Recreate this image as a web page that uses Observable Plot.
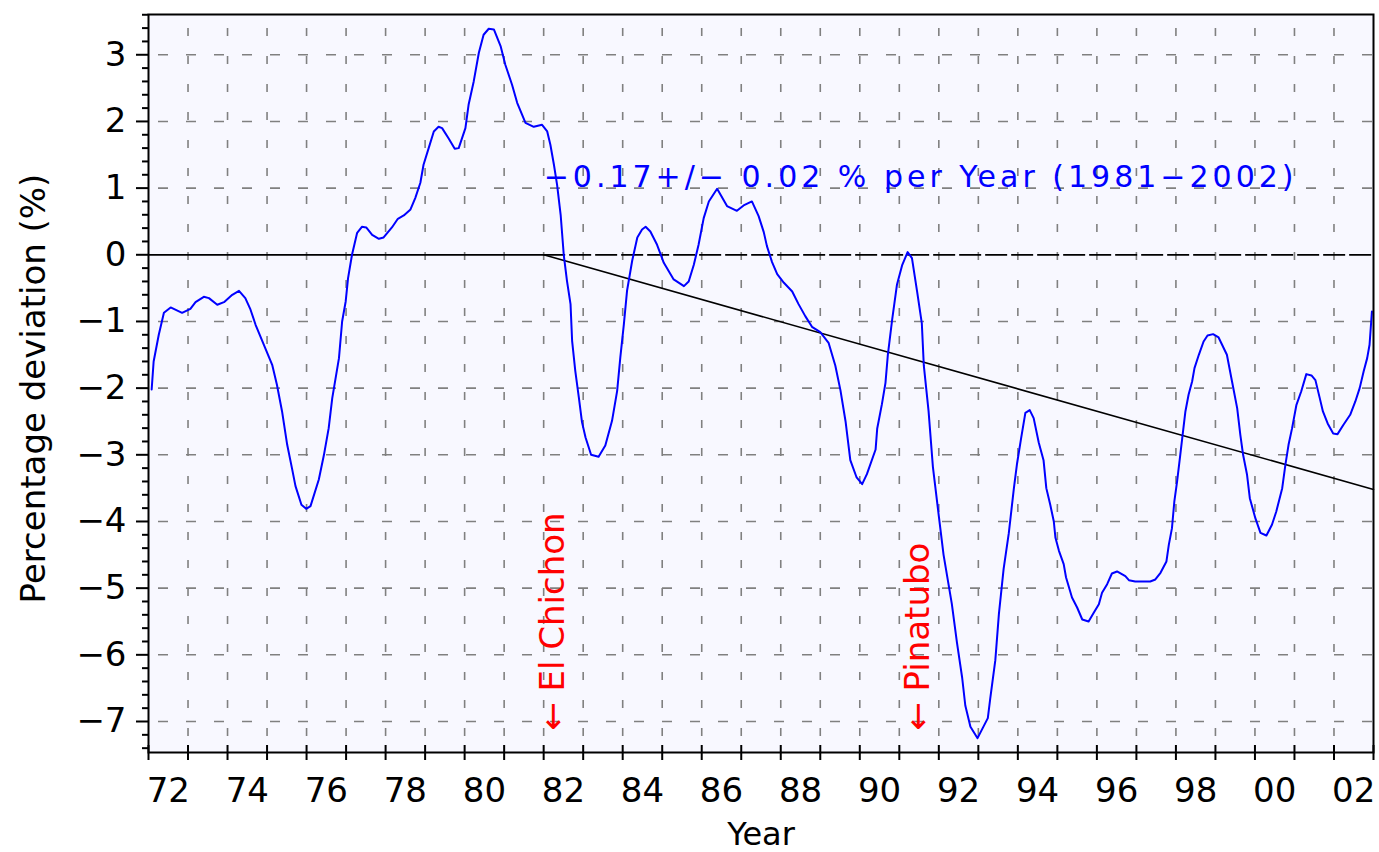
<!DOCTYPE html>
<html><head><meta charset="utf-8">
<script src="https://cdn.jsdelivr.net/npm/d3@7"></script>
<script src="https://cdn.jsdelivr.net/npm/@observablehq/plot@0.6"></script>
<style>html,body{margin:0;padding:0;background:#fff;overflow:hidden}</style>
</head><body><div id="chart"></div>
<script>
// ---- data ----
const years = [1972.08,1972.13,1972.26,1972.39,1972.56,1972.85,1973.06,1973.19,1973.40,1973.53,1973.74,1973.91,
1974.12,1974.29,1974.45,1974.58,1974.71,1974.92,1975.13,1975.25,1975.38,1975.51,1975.63,1975.72,1975.87,1975.99,
1976.10,1976.31,1976.44,1976.56,1976.65,1976.82,1976.90,1976.99,1977.05,1977.15,1977.28,1977.40,1977.51,1977.66,
1977.83,1977.95,1978.16,1978.31,1978.46,1978.63,1978.75,1978.88,1978.96,1979.09,1979.22,1979.34,1979.43,1979.60,
1979.75,1979.85,1980.02,1980.10,1980.23,1980.36,1980.48,1980.61,1980.74,1980.91,1981.03,1981.20,1981.33,1981.54,
1981.75,1981.96,1982.09,1982.17,1982.26,1982.34,1982.43,1982.51,1982.59,1982.68,1982.72,1982.80,1982.89,1982.97,
1983.06,1983.20,1983.39,1983.56,1983.73,1983.86,1983.94,1984.03,1984.11,1984.24,1984.37,1984.49,1984.58,1984.70,
1984.87,1985.04,1985.29,1985.55,1985.67,1985.80,1985.92,1986.05,1986.18,1986.39,1986.64,1986.89,1987.06,1987.27,
1987.44,1987.57,1987.65,1987.78,1987.91,1988.08,1988.29,1988.45,1988.62,1988.79,1989.00,1989.21,1989.38,1989.51,
1989.64,1989.76,1989.92,1990.06,1990.18,1990.40,1990.44,1990.56,1990.65,1990.71,1990.82,1990.94,1991.07,1991.21,
1991.32,1991.45,1991.57,1991.62,1991.74,1991.85,1992.00,1992.12,1992.33,1992.46,1992.59,1992.67,1992.80,1992.98,
1993.24,1993.30,1993.43,1993.52,1993.64,1993.77,1993.90,1993.98,1994.08,1994.19,1994.30,1994.40,1994.53,1994.65,
1994.72,1994.82,1994.91,1994.95,1995.04,1995.16,1995.22,1995.37,1995.50,1995.63,1995.79,1995.92,1996.05,1996.13,
1996.26,1996.38,1996.51,1996.72,1996.81,1996.97,1997.35,1997.48,1997.61,1997.76,1997.82,1997.90,1997.96,1998.03,
1998.11,1998.18,1998.24,1998.32,1998.41,1998.47,1998.58,1998.70,1998.80,1998.94,1999.08,1999.29,1999.42,1999.55,
1999.63,1999.70,1999.80,1999.87,2000.01,2000.14,2000.29,2000.43,2000.54,2000.69,2000.77,2000.85,2000.94,2001.05,
2001.17,2001.30,2001.43,2001.53,2001.64,2001.72,2001.84,2001.98,2002.09,2002.24,2002.41,2002.54,2002.65,2002.75,
2002.84,2002.90,2002.96];
const deviation = [-2.02,-1.60,-1.20,-0.87,-0.79,-0.87,-0.81,-0.71,-0.63,-0.65,-0.75,-0.71,
-0.60,-0.54,-0.65,-0.82,-1.05,-1.35,-1.65,-1.95,-2.35,-2.85,-3.20,-3.47,-3.75,-3.81,
-3.77,-3.37,-3.00,-2.60,-2.15,-1.55,-1.00,-0.70,-0.35,0.00,0.33,0.42,0.41,0.30,
0.24,0.26,0.41,0.54,0.59,0.68,0.85,1.08,1.35,1.60,1.85,1.92,1.90,1.74,
1.59,1.60,1.90,2.25,2.60,3.03,3.30,3.39,3.38,3.13,2.85,2.55,2.28,1.98,
1.92,1.95,1.85,1.65,1.35,1.05,0.60,-0.01,-0.39,-0.74,-1.29,-1.74,-2.14,-2.51,
-2.74,-3.00,-3.03,-2.86,-2.49,-2.04,-1.54,-1.04,-0.54,-0.09,0.26,0.38,0.42,0.35,
0.15,-0.12,-0.37,-0.47,-0.40,-0.15,0.15,0.55,0.80,0.99,0.73,0.66,0.74,0.80,
0.58,0.34,0.13,-0.11,-0.29,-0.42,-0.55,-0.74,-0.92,-1.08,-1.16,-1.32,-1.66,-2.03,
-2.50,-3.08,-3.34,-3.44,-3.29,-2.92,-2.61,-2.24,-1.92,-1.50,-0.97,-0.45,-0.16,0.04,
-0.05,-0.55,-1.03,-1.66,-2.34,-3.18,-3.92,-4.50,-5.24,-5.82,-6.34,-6.76,-7.08,-7.25,
-6.95,-6.66,-6.08,-5.39,-4.71,-4.18,-3.50,-3.13,-2.76,-2.37,-2.33,-2.45,-2.82,-3.08,
-3.50,-3.75,-4.00,-4.24,-4.44,-4.64,-4.84,-5.14,-5.29,-5.47,-5.50,-5.37,-5.24,-5.07,
-4.94,-4.78,-4.75,-4.82,-4.88,-4.90,-4.90,-4.87,-4.77,-4.60,-4.35,-4.10,-3.70,-3.40,
-3.00,-2.65,-2.35,-2.10,-1.90,-1.70,-1.50,-1.30,-1.21,-1.19,-1.24,-1.50,-1.90,-2.30,
-2.70,-3.00,-3.30,-3.65,-3.95,-4.17,-4.21,-4.05,-3.85,-3.50,-3.15,-2.85,-2.60,-2.25,
-2.05,-1.79,-1.81,-1.88,-2.15,-2.35,-2.53,-2.68,-2.69,-2.55,-2.40,-2.20,-2.00,-1.75,
-1.55,-1.35,-0.85];

const trendYears = [1982, 2003];
const trendValues = [0, -3.52];
const trendText = "−0.17+/− 0.02 % per Year (1981−2002)";
const trendTextPos = [1982, 1.01];

const eventNames = ["← El Chichon", "← Pinatubo"];
const eventYears = [1982.25, 1991.47];
const eventBase = -7.14;

const xLabelYears = [1972,1974,1976,1978,1980,1982,1984,1986,1988,1990,1992,1994,1996,1998,2000,2002];
const xTickLabels = ["72","74","76","78","80","82","84","86","88","90","92","94","96","98","00","02"];
const yTickValues = [-7,-6,-5,-4,-3,-2,-1,0,1,2,3];
const yTickLabels = ["−7","−6","−5","−4","−3","−2","−1","0","1","2","3"];
const xTitle = "Year";
const yTitle = "Percentage deviation (%)";

// ---- derived tables ----
const series = years.map((x, i) => ({x, y: deviation[i]}));
const trend = trendYears.map((x, i) => ({x, y: trendValues[i]}));
const yearTicks = d3.range(1972, 2004);
const gridYears = d3.range(1973, 2003);
const gridValues = yTickValues.filter(v => v !== 0);
const yMinor = d3.range(-74, 37, 2).map(v => v / 10).filter(v => Math.abs(v - Math.round(v)) > 1e-6);
const xLabelAt = xLabelYears.map(y => y + 0.5);
const xLabelMap = new Map(xLabelAt.map((v, i) => [v, xTickLabels[i]]));
const yLabelMap = new Map(yTickValues.map((v, i) => [v, yTickLabels[i]]));

const FONT = "DejaVu Sans";

const chart = Plot.plot({
  width: 1379,
  height: 852,
  marginLeft: 148,
  marginRight: 6,
  marginTop: 14,
  marginBottom: 100,
  style: {fontFamily: FONT, background: "white", color: "black"},
  x: {domain: [1972, 2003]},
  y: {domain: [-7.465, 3.604]},
  marks: [
    Plot.frame({fill: "#f8f8ff", stroke: null}),
    Plot.ruleY(gridValues, {stroke: "#808080", strokeWidth: 1.6, strokeDasharray: "10,18", strokeDashoffset: 18}),
    Plot.ruleX(gridYears, {stroke: "#808080", strokeWidth: 1.6, strokeDasharray: "8,20", strokeDashoffset: 14}),
    Plot.ruleY([0], {x1: 1972, x2: trendYears[0], stroke: "black", strokeWidth: 1.8}),
    Plot.ruleY([0], {x1: trendYears[0], x2: 2003, stroke: "black", strokeWidth: 1.8, strokeDasharray: "22,4"}),
    Plot.line(trend, {x: "x", y: "y", stroke: "black", strokeWidth: 1.6}),
    Plot.line(series, {x: "x", y: "y", stroke: "#0000ff", strokeWidth: 2}),
    Plot.text([trendText], {x: trendTextPos[0], y: trendTextPos[1], text: d => d, textAnchor: "start", lineAnchor: "bottom",
      fill: "#0000ff", fontSize: 30, fontFamily: FONT}),
    Plot.text(eventNames, {x: (d, i) => eventYears[i], y: eventBase, text: d => d, rotate: -90, textAnchor: "start",
      lineAnchor: "middle", fill: "#ff0000", fontSize: 34, fontFamily: FONT}),
    Plot.frame({stroke: "black", strokeWidth: 2}),
    Plot.axisX(yearTicks, {tickSize: 15, dy: -7, tickFormat: () => "", strokeWidth: 2, label: null}),
    Plot.axisX(xLabelAt, {tickSize: 0, tickPadding: 25, tickFormat: d => xLabelMap.get(d), fontSize: 34, label: null}),
    Plot.axisY(yTickValues, {tickSize: 12, tickPadding: 10, tickFormat: d => yLabelMap.get(d), fontSize: 34, strokeWidth: 2, label: null}),
    Plot.axisY(yMinor, {tickSize: 6, tickFormat: () => "", strokeWidth: 2, label: null}),
    Plot.text([xTitle], {frameAnchor: "bottom", dy: 92, textAnchor: "middle", lineAnchor: "bottom", text: d => d, fontSize: 32, fontFamily: FONT}),
    Plot.text([yTitle], {frameAnchor: "left", dx: -104, dy: 5, rotate: -90, textAnchor: "middle", lineAnchor: "bottom", text: d => d, fontSize: 34, fontFamily: FONT})
  ]
});
d3.select(chart).selectAll("text").filter(function() { return this.textContent === trendText; })
  .attr("letter-spacing", 4.0);
document.getElementById("chart").appendChild(chart);
</script>
</body></html>
